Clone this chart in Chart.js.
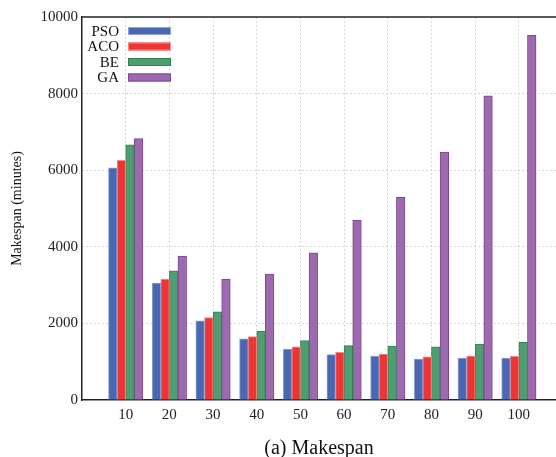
<!DOCTYPE html>
<html>
<head>
<meta charset="utf-8">
<script src="https://cdn.jsdelivr.net/npm/chart.js@4/dist/chart.umd.min.js"></script>
<style>
    html, body { margin: 0; padding: 0; background: #fff; }
    #wrap { width: 556px; height: 457px; }
</style>
</head>
<body>
<div id="wrap"><canvas id="grafico"></canvas></div>
<script>
// datos
const tareas = [10, 20, 30, 40, 50, 60, 70, 80, 90, 100];
const pso = [6060, 3055, 2070, 1595, 1330, 1185, 1150, 1070, 1095, 1095];
const aco = [6260, 3160, 2150, 1655, 1385, 1245, 1200, 1125, 1150, 1140];
const be  = [6660, 3370, 2305, 1800, 1550, 1420, 1410, 1385, 1460, 1505];
const ga  = [6825, 3760, 3160, 3290, 3840, 4700, 5290, 6475, 7945, 9530];
const ticksY = [0, 2000, 4000, 6000, 8000, 10000];

const fuente = "'Liberation Serif', 'DejaVu Serif', serif";

function serie(nombre, valores, relleno, borde) {
    return {
        label: nombre,
        data: tareas.map((t, i) => ({ x: t, y: valores[i] })),
        backgroundColor: relleno,
        borderColor: borde,
        borderWidth: 1,
        barThickness: 8.6
    };
}

// leyenda dentro del area (texto a la izquierda de la muestra) + borde superior
const leyendaPlugin = {
    id: "leyendaPlugin",
    afterDraw(chart) {
        const ctx = chart.ctx;
        const area = chart.chartArea;
        ctx.save();
        ctx.strokeStyle = "#222";
        ctx.lineWidth = 1.5;
        ctx.beginPath();
        ctx.moveTo(area.left, area.top);
        ctx.lineTo(chart.width, area.top);
        ctx.stroke();

        ctx.font = "15px " + fuente;
        ctx.textAlign = "right";
        ctx.textBaseline = "middle";
        chart.data.datasets.forEach((ds, i) => {
            let y = 31 + i * 15.5;
            ctx.fillStyle = "#111";
            ctx.fillText(ds.label, 119, y + 1);
            ctx.fillStyle = ds.backgroundColor;
            ctx.fillRect(128, y - 4, 43, 8);
            ctx.strokeStyle = ds.borderColor;
            ctx.lineWidth = 1;
            ctx.strokeRect(128.5, y - 3.5, 42, 7);
        });
        ctx.restore();
    }
};

new Chart(document.getElementById("grafico"), {
    type: "bar",
    data: {
        datasets: [
            serie("PSO", pso, "#4a67b1", "#8fa2d6"),
            serie("ACO", aco, "#ee3535", "#f48a8a"),
            serie("BE", be, "#4f9e72", "#2f8052"),
            serie("GA", ga, "#9d6aae", "#7b4794")
        ]
    },
    options: {
        responsive: true,
        maintainAspectRatio: false,
        animation: false,
        layout: { padding: { top: 17, right: 0, left: 0, bottom: 0 } },
        plugins: {
            legend: { display: false },
            tooltip: { enabled: false },
            title: {
                display: true,
                position: "bottom",
                fullSize: false,
                text: "(a) Makespan",
                color: "#111",
                font: { family: fuente, size: 20, weight: "normal" },
                padding: { top: 6, bottom: -4 }
            }
        },
        scales: {
            x: {
                type: "linear",
                min: 0,
                max: 108.5,
                offset: false,
                afterBuildTicks: (scale) => {
                    scale.ticks = tareas.map(v => ({ value: v }));
                },
                afterFit: (scale) => { scale.height = 31; },
                ticks: {
                    color: "#222",
                    padding: 6,
                    font: { family: fuente, size: 15 }
                },
                grid: {
                    offset: false,
                    color: "#cccccc",
                    lineWidth: 1,
                    drawTicks: false
                },
                border: { color: "#222", width: 1.5, dash: [1.5, 2.5] }
            },
            y: {
                min: 0,
                max: 10000,
                afterBuildTicks: (scale) => {
                    scale.ticks = ticksY.map(v => ({ value: v }));
                },
                afterFit: (scale) => { scale.width = 82; },
                ticks: {
                    color: "#222",
                    padding: 4,
                    font: { family: fuente, size: 15 },
                    callback: (v) => String(v)
                },
                grid: {
                    color: (c) => c.tick && (c.tick.value === 10000 || c.tick.value === 0) ? "rgba(0,0,0,0)" : "#cccccc",
                    lineWidth: 1,
                    drawTicks: false
                },
                border: { color: "#222", width: 1.5, dash: [1.5, 2.5] },
                title: {
                    display: true,
                    text: "Makespan (minutes)",
                    color: "#111",
                    font: { family: fuente, size: 14 },
                    padding: { top: 9, bottom: 0 }
                }
            }
        }
    },
    plugins: [leyendaPlugin]
});
</script>
</body>
</html>
